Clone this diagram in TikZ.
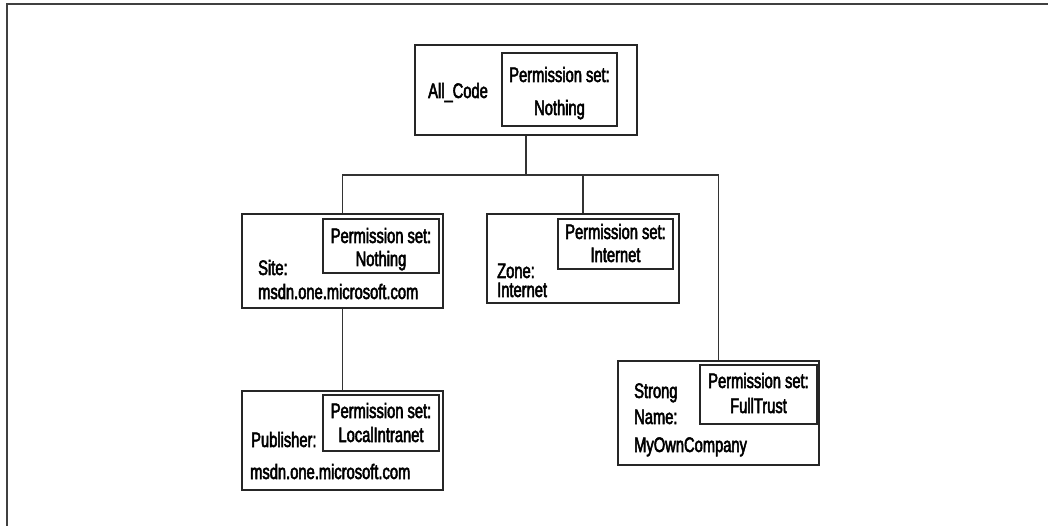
\documentclass[tikz,border=0pt]{standalone}
\usepackage{fontspec}
\setmainfont[FakeStretch=0.7,FakeBold=2.5]{Liberation Sans}
\begin{document}
\begin{tikzpicture}[x=1pt,y=-1pt,
  outerbox/.style={draw=black!85,line width=1.3pt,rectangle,inner sep=0pt},
  permbox/.style={draw=black!85,line width=1.2pt,rectangle,inner sep=0pt},
  lbl/.style={anchor=base west,inner sep=0pt,font=\fontsize{21}{24}\selectfont},
  clbl/.style={anchor=base,inner sep=0pt,font=\fontsize{21}{24}\selectfont},
  link/.style={draw=black!80,line width=1.2pt}]
\useasboundingbox (0,0) rectangle (1048,526);
% page frame (top and left edges)
\draw[draw=black!75,line width=2pt] (7,526) -- (7,4) -- (1048,4);

% code groups
\node[outerbox,minimum width=222pt,minimum height=90pt] (allcode) at (526,90) {};
\node[permbox,minimum width=115pt,minimum height=73pt] (allcodeps) at (559.5,89.5) {};
\node[lbl] (allcodet) at (428,98) {All\_Code};
\node[clbl] (allcodep1) at (allcodeps.center |- 0,82) {Permission set:};
\node[clbl] (allcodep2) at (allcodeps.center |- 0,115) {Nothing};

\node[outerbox,minimum width=201pt,minimum height=94pt] (site) at (342.5,261) {};
\node[permbox,minimum width=116pt,minimum height=54pt] (siteps) at (381,246) {};
\node[lbl] (sitet1) at (258,275) {Site:};
\node[lbl] (sitet2) at (258,299) {msdn.one.microsoft.com};
\node[clbl] (sitep1) at (siteps.center |- 0,243) {Permission set:};
\node[clbl] (sitep2) at (siteps.center |- 0,266) {Nothing};

\node[outerbox,minimum width=201pt,minimum height=99pt] (pub) at (342.5,440.5) {};
\node[permbox,minimum width=116pt,minimum height=56pt] (pubps) at (381,423) {};
\node[lbl] (pubt1) at (251,447) {Publisher:};
\node[lbl] (pubt2) at (250,479) {msdn.one.microsoft.com};
\node[clbl] (pubp1) at (pubps.center |- 0,418) {Permission set:};
\node[clbl] (pubp2) at (pubps.center |- 0,442) {LocalIntranet};

\node[outerbox,minimum width=192pt,minimum height=89pt] (zone) at (583,258.5) {};
\node[permbox,minimum width=115pt,minimum height=50pt] (zoneps) at (615.5,244) {};
\node[lbl] (zonet1) at (497,278) {Zone:};
\node[lbl] (zonet2) at (497,297) {Internet};
\node[clbl] (zonep1) at (zoneps.center |- 0,239) {Permission set:};
\node[clbl] (zonep2) at (zoneps.center |- 0,262) {Internet};

\node[outerbox,minimum width=201pt,minimum height=104pt] (strong) at (718.5,413) {};
\node[permbox,minimum width=117pt,minimum height=59pt] (strongps) at (758.5,394.5) {};
\node[lbl] (strongt1) at (634,398) {Strong};
\node[lbl] (strongt2) at (634,424) {Name:};
\node[lbl] (strongt3) at (634,452) {MyOwnCompany};
\node[clbl] (strongp1) at (strongps.center |- 0,388) {Permission set:};
\node[clbl] (strongp2) at (strongps.center |- 0,413) {FullTrust};

% tree connectors
\coordinate (bus) at (526,175);
\draw[link] (allcode.south) -- (bus);
\draw[link] (site.north) -- (site.north |- bus) -- (strong.north |- bus) -- (strong.north);
\draw[link] (zone.north) -- (zone.north |- bus);
\draw[link] (site.south) -- (pub.north);
\end{tikzpicture}
\end{document}
